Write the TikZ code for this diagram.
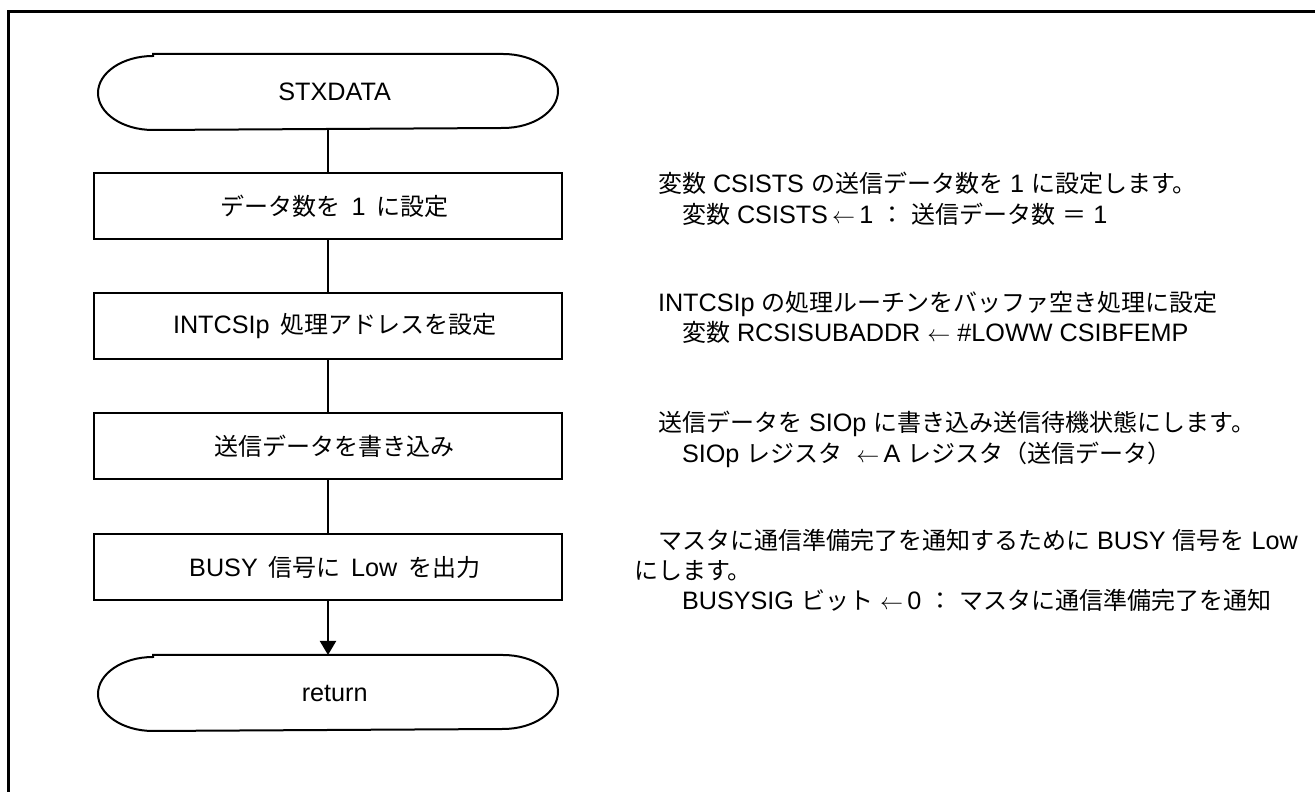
\documentclass[tikz,border=0pt]{standalone}
\usepackage{fontspec}
\setmainfont{Liberation Sans}[Scale=1.05]
\newfontfamily\jpfont{Noto Sans CJK JP}
\newcommand\J[1]{{\jpfont #1}}
\newcommand\bsp{\hspace{8pt}}
\newcommand\larr{\ensuremath{\leftarrow}}
\usetikzlibrary{arrows.meta}
\newcommand\termoutline[1]{%
  \draw ([xshift=41.25pt]#1.north west) -- ([xshift=-41.25pt]#1.north east)
    arc[start angle=90,end angle=-90,x radius=41.25pt,y radius=27.75pt]
    -- ([xshift=41.25pt]#1.south west)
    arc[start angle=270,end angle=90,x radius=41.25pt,y radius=27.75pt] -- cycle;}
\begin{document}
\begin{tikzpicture}[x=0.75pt,y=0.75pt,
  font=\fontsize{18pt}{22pt}\selectfont,
  line width=1.5pt,
  termnode/.style={draw=none,minimum width=343.5pt,minimum height=55.5pt,inner sep=0pt,
    execute at begin node={\hspace*{10pt}}},
  box/.style={draw,minimum width=351pt,minimum height=49.5pt,inner sep=0pt,
    execute at begin node={\hspace*{10pt}}},
  rt/.style={anchor=west,inner sep=0pt,text height=13.5pt,text depth=0pt},
  conn/.style={line width=1.5pt},
  frame/.style={line width=2.25pt}]
\useasboundingbox (0,0) rectangle (1315,792);
% outer frame (cut by page edge)
\coordinate (fbl) at (8,-10);
\coordinate (ftl) at (8,780);
\coordinate (ftr) at (1330,780);
\draw[frame] (fbl) -- (ftl) -- (ftr);
% flow
\node[termnode] (start) at (328,700) {STXDATA};
\node[box] (b1) at (328,586) {\J{データ数を}\bsp 1\bsp\J{に設定}};
\node[box] (b2) at (328,466) {INTCSIp\bsp\J{処理アドレスを設定}};
\node[box] (b3) at (328,346) {\J{送信データを書き込み}};
\node[box] (b4) at (328,225) {BUSY\bsp\J{信号に}\bsp Low\bsp\J{を出力}};
\node[termnode] (ret) at (328,99) {return};
\termoutline{start}
\termoutline{ret}
\draw[conn] (start) -- (b1);
\draw[conn] (b1) -- (b2);
\draw[conn] (b2) -- (b3);
\draw[conn] (b3) -- (b4);
\draw[conn,-{Triangle[width=12pt,length=10.5pt]}] (b4) -- (ret);
% descriptions
\node[rt] (t1a) at (657,608) {\J{変数} CSISTS \J{の送信データ数を} 1 \J{に設定します。}};
\node[rt] (t1b) at (681,577) {\J{変数} CSISTS\,\larr\,1 \J{：} \J{送信データ数} \J{＝} 1};
\node[rt] (t2a) at (657,489) {INTCSIp \J{の処理ルーチンをバッファ空き処理に設定}};
\node[rt] (t2b) at (681,459) {\J{変数} RCSISUBADDR \larr\ \#LOWW CSIBFEMP};
\node[rt] (t3a) at (657,369) {\J{送信データを} SIOp \J{に書き込み送信待機状態にします。}};
\node[rt] (t3b) at (681,338) {SIOp \J{レジスタ} \ \larr\,A \J{レジスタ（送信データ）}};
\node[rt] (t4a) at (657,251) {\J{マスタに通信準備完了を通知するために} BUSY \J{信号を} Low};
\node[rt] (t4b) at (633,221) {\J{にします。}};
\node[rt] (t4c) at (681,191) {BUSYSIG \J{ビット} \larr\,0 \J{：} \J{マスタに通信準備完了を通知}};
\end{tikzpicture}
\end{document}
